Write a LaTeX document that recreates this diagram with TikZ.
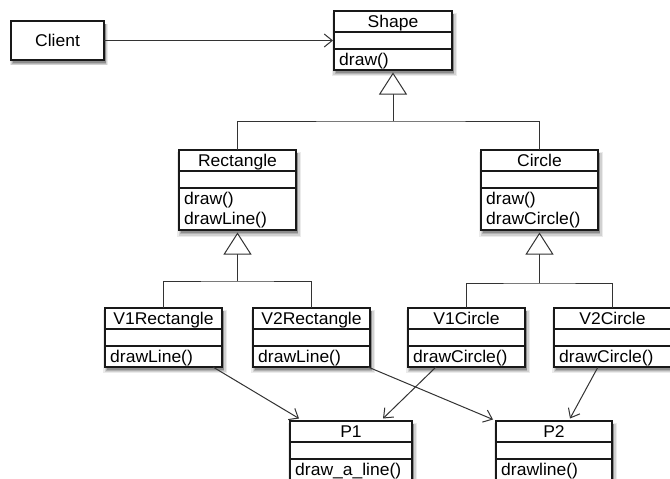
\documentclass[tikz,border=0pt]{standalone}
\usepackage{fontspec}
\setmainfont{Liberation Sans}[FakeStretch=1.03]
\usetikzlibrary{arrows.meta,shadows}

\newcommand{\umlfont}{\fontsize{17}{19}\selectfont}

\tikzset{
  classbox/.style={draw=black!90, line width=1.3pt, fill=white, inner sep=0pt, outer sep=0pt,
    general shadow={shadow xshift=1.5pt,shadow yshift=-4pt,shadow scale=1.06,fill=black,opacity=.08},
    general shadow={shadow xshift=1.5pt,shadow yshift=-4pt,shadow scale=1.035,fill=black,opacity=.11},
    general shadow={shadow xshift=1.5pt,shadow yshift=-3.5pt,shadow scale=1.015,fill=black,opacity=.15},
    general shadow={shadow xshift=1.5pt,shadow yshift=-3pt,fill=black,opacity=.2}},
  divider/.style={draw=black!90, line width=1.1pt},
  lbl/.style={font=\umlfont, inner sep=0pt, text=black},
  conn/.style={draw=black!80, line width=1pt},
  assoc/.style={conn, -{Straight Barb[length=8pt,width=13pt]}},
  gen/.style={conn, -{Triangle[open,length=22pt,width=28pt,fill=white]}},
}

% #1 name, #2 left x, #3 top y, #4 width, #5 height, #6 title, #7 op1, #8 op2
\newcommand{\umlclass}[8]{%
  \node[classbox, minimum width=#4pt, minimum height=#5pt, anchor=north west] (#1) at (#2,#3) {};
  \draw[divider] ([yshift=-21pt]#1.north west) -- ([yshift=-21pt]#1.north east);
  \draw[divider] ([yshift=-38pt]#1.north west) -- ([yshift=-38pt]#1.north east);
  \node[lbl, anchor=base] (#1-name) at ([yshift=-16.5pt]#1.north) {#6};
  \node[lbl, anchor=base west] (#1-op1) at ([xshift=5pt,yshift=-54.5pt]#1.north west) {#7};
  \ifx\relax#8\relax\else
  \node[lbl, anchor=base west] (#1-op2) at ([xshift=5pt,yshift=-74.5pt]#1.north west) {#8};
  \fi
}

\begin{document}
\begin{tikzpicture}[x=1pt,y=-1pt]
  \useasboundingbox (0,0) rectangle (670,479);
  \fill[white] (0,0) rectangle (670,479);
  \clip (0,0) rectangle (670,479);

  % client
  \node[classbox, font=\umlfont, minimum width=93pt, minimum height=39pt, anchor=north west] (client) at (11,21) {Client};

  % classes
  \umlclass{shape}{334}{11}{118}{59}{Shape}{draw()}{}
  \umlclass{rect}{179}{150}{117}{80}{Rectangle}{draw()}{drawLine()}
  \umlclass{circ}{481}{150}{117}{80}{Circle}{draw()}{drawCircle()}
  \umlclass{vonerect}{105}{308}{117}{59}{V1Rectangle}{drawLine()}{}
  \umlclass{vtworect}{253}{308}{117}{59}{V2Rectangle}{drawLine()}{}
  \umlclass{vonecirc}{408}{308}{117}{59}{V1Circle}{drawCircle()}{}
  \umlclass{vtwocirc}{554}{308}{117}{59}{V2Circle}{drawCircle()}{}
  \umlclass{pone}{290}{421}{122}{59}{P1}{draw\_a\_line()}{}
  \umlclass{ptwo}{496}{421}{116}{59}{P2}{drawline()}{}

  % client association
  \draw[assoc] (client.east) -- ([xshift=-1pt]shape.west);

  % generalisation: Shape
  \coordinate (jone) at ([yshift=-51pt]shape.south);
  \draw[conn] (rect.north) |- (jone) -| (circ.north);
  \draw[gen] (jone) -- ([yshift=-2.5pt]shape.south);

  % generalisation: Rectangle
  \coordinate (jtwo) at ([yshift=-51pt]rect.south);
  \draw[conn] (vonerect.north) |- (jtwo) -| (vtworect.north);
  \draw[gen] (jtwo) -- ([yshift=-2.5pt]rect.south);

  % generalisation: Circle
  \coordinate (jthree) at ([yshift=-53pt]circ.south);
  \draw[conn] (vonecirc.north) |- (jthree) -| (vtwocirc.north);
  \draw[gen] (jthree) -- ([yshift=-2.5pt]circ.south);

  % implementation associations
  \draw[assoc] ([xshift=-9pt]vonerect.south east) -- ([xshift=9pt,yshift=2.5pt]pone.north west);
  \draw[assoc] ([xshift=-2pt]vtworect.south east) -- ([xshift=-3pt,yshift=1.5pt]ptwo.north west);
  \draw[assoc] ([xshift=28pt]vonecirc.south west) -- ([xshift=-29pt,yshift=2.5pt]pone.north east);
  \draw[assoc] ([xshift=44pt]vtwocirc.south west) -- ([xshift=74pt,yshift=2.5pt]ptwo.north west);
\end{tikzpicture}
\end{document}
